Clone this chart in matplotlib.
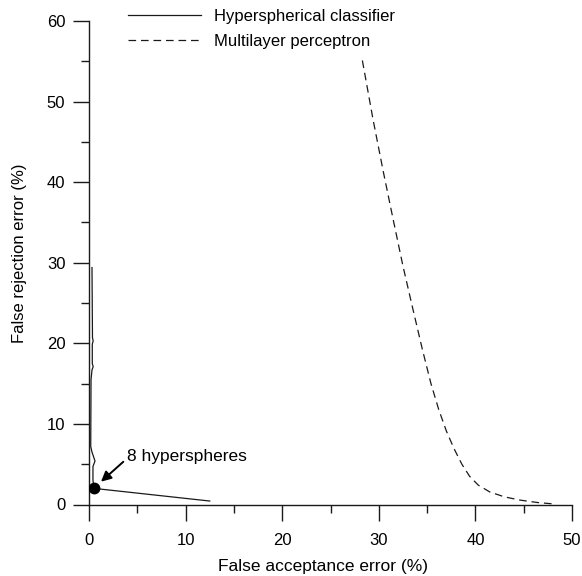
import matplotlib
matplotlib.use("Agg")
import matplotlib.pyplot as plt

# error trade-off curves, values in %
hyp_far = [12.5, 0.52, 0.41, 0.41, 0.62, 0.31, 0.18, 0.21, 0.31, 0.43, 0.34, 0.34, 0.43, 0.36, 0.31]
hyp_frr = [0.43, 2.0, 3.0, 4.7, 5.4, 6.5, 7.2, 15.5, 16.7, 17.1, 17.5, 19.9, 20.3, 20.7, 29.4]

mlp_far = [28.3, 29.4, 30.5, 31.5, 32.5, 33.5, 34.5, 35.4, 36.2, 37.0, 37.8, 38.6,
           39.4, 40.3, 41.5, 43.0, 44.6, 46.4, 48.2]
mlp_frr = [55.1, 47.8, 41.1, 35.3, 29.6, 24.4, 19.3, 15.0, 11.8, 9.1, 6.9, 5.0,
           3.5, 2.4, 1.55, 0.95, 0.55, 0.25, 0.06]

# operating point marked on the hyperspherical curve
op_far, op_frr = 0.52, 2.0
op_label = "8 hyperspheres"

plt.rcParams["font.family"] = ["Liberation Sans", "DejaVu Sans"]
plt.rcParams["font.size"] = 12
plt.rcParams["lines.scale_dashes"] = False

fig = plt.figure(figsize=(5.82, 5.76), dpi=100)
ax = fig.add_axes([89 / 582, 71.5 / 576, 483 / 582, 483.5 / 576])

ink = "#1a1a1a"
ax.plot(hyp_far, hyp_frr, color=ink, lw=0.9, label="Hyperspherical classifier")
ax.plot(mlp_far, mlp_frr, color=ink, lw=0.9, dashes=(5.5, 3.5), label="Multilayer perceptron")
ax.plot(op_far, op_frr, "o", color="black", ms=7.5, zorder=5)

ax.text(3.9, 5.94, op_label, va="center", ha="left", fontsize=12.5)
ax.annotate("", xy=(1.24, 2.83), xytext=(3.55, 5.3),
            arrowprops=dict(arrowstyle="-|>", color="black", lw=1.4,
                            mutation_scale=15, shrinkA=0, shrinkB=0))

ax.set_xlim(0, 50)
ax.set_ylim(0, 60)
ax.set_xticks(range(0, 51, 10))
ax.set_xticks(range(5, 50, 10), minor=True)
ax.set_yticks(range(0, 61, 10))
ax.set_yticks(range(5, 60, 10), minor=True)

for side in ("top", "right"):
    ax.spines[side].set_visible(False)
for side in ("left", "bottom"):
    ax.spines[side].set_linewidth(1.0)
    ax.spines[side].set_color(ink)

ax.tick_params(which="major", length=11.5, width=1.0, color=ink)
ax.tick_params(which="minor", length=6, width=1.0, color=ink)
ax.tick_params(axis="x", which="major", pad=9)
ax.tick_params(axis="y", which="major", pad=5.5)

ax.set_xlabel("False acceptance error (%)", va="center", fontsize=12.5)
ax.xaxis.set_label_coords(0.485, -0.128)
ax.set_ylabel("False rejection error (%)", va="center")
ax.yaxis.set_label_coords(-0.143, 0.519)

ax.legend(loc="upper left", bbox_to_anchor=(128 / 582, 567 / 576),
          bbox_transform=fig.transFigure, frameon=False, borderpad=0,
          borderaxespad=0, handlelength=4.4, handletextpad=0.78, labelspacing=0.6)

fig.savefig("out.png", dpi=100)
